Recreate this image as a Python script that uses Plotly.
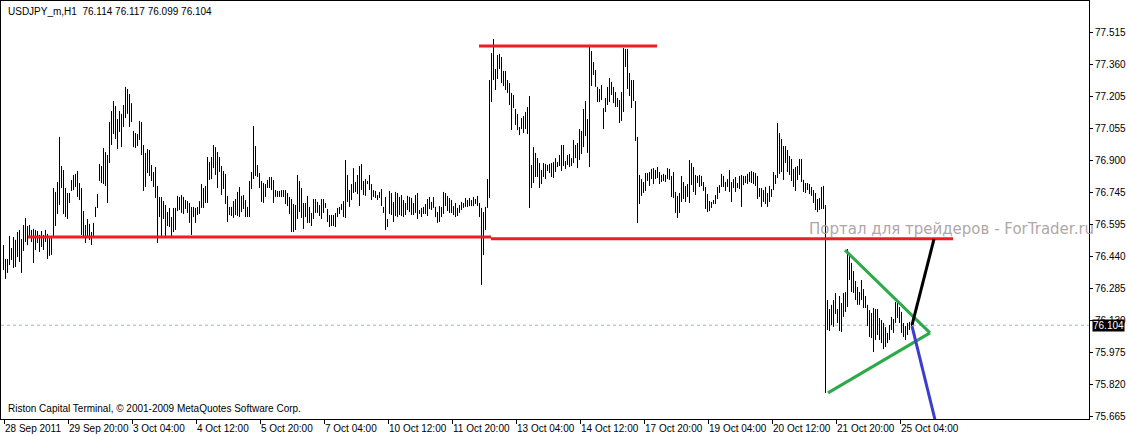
import plotly.graph_objects as go
import numpy as np

symbol_title = "USDJPY_m,H1"
last_ohlc = ["76.114", "76.117", "76.099", "76.104"]
last_close = 76.104
footer_text = "Riston Capital Terminal, © 2001-2009 MetaQuotes Software Corp."
watermark_text = "Портал для трейдеров - ForTrader.ru"

x_tick_labels = ["28 Sep 2011", "29 Sep 20:00", "3 Oct 04:00", "4 Oct 12:00", "5 Oct 20:00",
                 "7 Oct 04:00", "10 Oct 12:00", "11 Oct 20:00", "13 Oct 04:00", "14 Oct 12:00",
                 "17 Oct 20:00", "19 Oct 04:00", "20 Oct 12:00", "21 Oct 20:00", "25 Oct 04:00"]
y_tick_labels = ["75.665", "75.820", "75.975", "76.130", "76.285", "76.440", "76.595",
                 "76.745", "76.900", "77.055", "77.205", "77.360", "77.515"]

highs = [
    76.490, 76.423, 76.423, 76.534, 76.476, 76.529, 76.515, 76.553, 76.563, 76.519,
    76.587, 76.621, 76.582, 76.587, 76.563, 76.568, 76.563, 76.558, 76.539, 76.558,
    76.539, 76.563, 76.544, 76.534, 76.529, 76.765, 76.746, 76.794, 77.011, 76.871,
    76.852, 76.765, 76.741, 76.741, 76.804, 76.828, 76.833, 76.847, 76.789, 76.765,
    76.654, 76.587, 76.616, 76.592, 76.553, 76.597, 76.674, 76.736, 76.881, 76.871,
    76.958, 76.938, 76.924, 77.083, 77.136, 77.184, 77.160, 77.097, 77.136, 77.122,
    77.165, 77.252, 77.242, 77.218, 77.174, 77.040, 77.030, 77.025, 77.088, 77.083,
    76.972, 76.934, 76.953, 76.948, 76.876, 76.842, 76.866, 76.775, 76.722, 76.722,
    76.702, 76.683, 76.649, 76.669, 76.625, 76.669, 76.669, 76.727, 76.722, 76.731,
    76.722, 76.707, 76.702, 76.693, 76.674, 76.674, 76.669, 76.674, 76.702, 76.784,
    76.765, 76.775, 76.914, 76.890, 76.914, 76.972, 76.962, 76.938, 76.914, 76.871,
    76.847, 76.833, 76.727, 76.674, 76.674, 76.702, 76.712, 76.746, 76.770, 76.727,
    76.731, 76.707, 76.674, 76.799, 76.842, 77.064, 76.967, 76.876, 76.837, 76.799,
    76.789, 76.784, 76.804, 76.818, 76.818, 76.804, 76.755, 76.751, 76.751, 76.755,
    76.755, 76.755, 76.741, 76.722, 76.712, 76.688, 76.683, 76.828, 76.799, 76.765,
    76.693, 76.693, 76.727, 76.674, 76.645, 76.712, 76.712, 76.698, 76.683, 76.712,
    76.712, 76.693, 76.664, 76.635, 76.635, 76.635, 76.645, 76.669, 76.674, 76.688,
    76.702, 76.900, 76.828, 76.755, 76.784, 76.861, 76.794, 76.828, 76.871, 76.881,
    76.799, 76.808, 76.799, 76.828, 76.784, 76.755, 76.751, 76.731, 76.746, 76.760,
    76.674, 76.722, 76.616, 76.751, 76.741, 76.698, 76.746, 76.741, 76.722, 76.731,
    76.707, 76.693, 76.727, 76.722, 76.717, 76.693, 76.731, 76.741, 76.659, 76.669,
    76.674, 76.688, 76.712, 76.722, 76.698, 76.722, 76.674, 76.649, 76.678, 76.674,
    76.746, 76.741, 76.727, 76.717, 76.707, 76.678, 76.693, 76.669, 76.683, 76.698,
    76.693, 76.717, 76.707, 76.717, 76.707, 76.722, 76.712, 76.727, 76.693, 76.669,
    76.649, 76.674, 76.808, 77.285, 77.415, 77.483, 77.338, 77.406, 77.411, 77.396,
    77.329, 77.329, 77.285, 77.271, 77.223, 77.213, 77.146, 77.122, 77.059, 77.102,
    77.112, 77.131, 77.155, 77.208, 76.876, 76.962, 76.934, 76.909, 76.885, 76.852,
    76.885, 76.881, 76.876, 76.881, 76.885, 76.890, 76.909, 76.890, 76.924, 76.972,
    76.972, 76.895, 76.924, 76.929, 76.909, 76.996, 76.972, 76.982, 77.049, 77.040,
    77.146, 77.184, 77.097, 77.444, 77.425, 77.372, 77.333, 77.252, 77.242, 77.261,
    77.150, 77.199, 77.252, 77.295, 77.276, 77.252, 77.227, 77.199, 77.189, 77.227,
    77.439, 77.435, 77.435, 77.319, 77.285, 77.285, 77.184, 77.011, 76.828, 76.808,
    76.794, 76.837, 76.837, 76.842, 76.857, 76.861, 76.852, 76.866, 76.842, 76.828,
    76.833, 76.828, 76.861, 76.857, 76.823, 76.842, 76.746, 76.727, 76.741, 76.823,
    76.794, 76.775, 76.784, 76.900, 76.885, 76.866, 76.828, 76.823, 76.828, 76.823,
    76.794, 76.770, 76.736, 76.702, 76.698, 76.707, 76.731, 76.770, 76.779, 76.833,
    76.823, 76.794, 76.808, 76.852, 76.794, 76.808, 76.818, 76.789, 76.823, 76.828,
    76.823, 76.823, 76.833, 76.842, 76.847, 76.842, 76.837, 76.823, 76.765, 76.765,
    76.755, 76.770, 76.741, 76.775, 76.760, 76.842, 76.828, 77.078, 77.030, 77.001,
    76.967, 76.967, 76.948, 76.919, 76.905, 76.857, 76.866, 76.871, 76.905, 76.905,
    76.804, 76.789, 76.789, 76.784, 76.770, 76.755, 76.741, 76.712, 76.717, 76.770,
    76.775, 76.683, 76.225, 76.182, 76.202, 76.225, 76.259, 76.182, 76.245, 76.211,
    76.259, 76.264, 76.471, 76.452, 76.404, 76.365, 76.317, 76.288, 76.264, 76.322,
    76.278, 76.245, 76.202, 76.177, 76.163, 76.187, 76.182, 76.182, 76.139, 76.129,
    76.115, 76.095, 76.067, 76.105, 76.144, 76.134, 76.216, 76.211, 76.192, 76.168,
    76.115, 76.100, 76.115, 76.120, 76.117,
]

lows = [
    76.370, 76.327, 76.356, 76.394, 76.418, 76.380, 76.385, 76.433, 76.409, 76.356,
    76.462, 76.505, 76.490, 76.529, 76.505, 76.404, 76.466, 76.500, 76.457, 76.481,
    76.466, 76.505, 76.423, 76.438, 76.443, 76.524, 76.582, 76.640, 76.683, 76.765,
    76.640, 76.625, 76.616, 76.693, 76.751, 76.755, 76.770, 76.722, 76.707, 76.539,
    76.524, 76.500, 76.534, 76.515, 76.490, 76.529, 76.625, 76.669, 76.799, 76.789,
    76.784, 76.775, 76.693, 76.885, 76.972, 77.025, 77.001, 76.953, 77.035, 76.962,
    77.059, 77.102, 77.122, 77.059, 77.083, 76.962, 76.958, 76.967, 76.996, 76.924,
    76.751, 76.770, 76.837, 76.823, 76.799, 76.770, 76.717, 76.500, 76.625, 76.534,
    76.616, 76.534, 76.582, 76.577, 76.534, 76.553, 76.563, 76.654, 76.659, 76.645,
    76.640, 76.664, 76.645, 76.597, 76.539, 76.625, 76.597, 76.635, 76.640, 76.669,
    76.669, 76.693, 76.693, 76.804, 76.808, 76.861, 76.828, 76.765, 76.842, 76.731,
    76.760, 76.688, 76.601, 76.635, 76.630, 76.621, 76.635, 76.630, 76.625, 76.649,
    76.664, 76.625, 76.625, 76.625, 76.760, 76.808, 76.823, 76.818, 76.765, 76.698,
    76.693, 76.722, 76.765, 76.765, 76.755, 76.693, 76.722, 76.722, 76.722, 76.722,
    76.722, 76.688, 76.678, 76.640, 76.553, 76.553, 76.563, 76.616, 76.649, 76.621,
    76.568, 76.625, 76.597, 76.597, 76.582, 76.616, 76.645, 76.645, 76.630, 76.616,
    76.645, 76.669, 76.601, 76.577, 76.582, 76.582, 76.577, 76.625, 76.640, 76.659,
    76.625, 76.621, 76.698, 76.674, 76.707, 76.741, 76.746, 76.736, 76.678, 76.755,
    76.731, 76.727, 76.784, 76.755, 76.707, 76.722, 76.717, 76.707, 76.717, 76.678,
    76.645, 76.563, 76.577, 76.640, 76.635, 76.601, 76.630, 76.625, 76.635, 76.630,
    76.625, 76.635, 76.659, 76.649, 76.635, 76.635, 76.645, 76.616, 76.640, 76.625,
    76.640, 76.640, 76.630, 76.664, 76.659, 76.669, 76.625, 76.597, 76.601, 76.625,
    76.640, 76.678, 76.654, 76.645, 76.645, 76.635, 76.625, 76.630, 76.645, 76.659,
    76.669, 76.674, 76.674, 76.678, 76.678, 76.678, 76.688, 76.678, 76.625, 76.298,
    76.442, 76.563, 76.669, 76.717, 77.179, 77.285, 77.237, 77.290, 77.338, 77.271,
    77.256, 77.237, 77.223, 77.165, 77.044, 77.150, 77.069, 77.044, 77.020, 77.049,
    77.030, 77.049, 77.025, 76.669, 76.765, 76.789, 76.818, 76.818, 76.765, 76.784,
    76.818, 76.808, 76.847, 76.837, 76.818, 76.813, 76.842, 76.866, 76.871, 76.847,
    76.871, 76.857, 76.876, 76.866, 76.871, 76.885, 76.909, 76.861, 76.900, 76.929,
    76.962, 77.015, 76.934, 76.866, 77.256, 77.309, 77.252, 77.179, 77.179, 77.189,
    77.049, 77.131, 77.165, 77.179, 77.213, 77.174, 77.155, 77.155, 77.078, 77.088,
    77.131, 77.348, 77.242, 77.208, 77.150, 77.184, 76.991, 76.596, 76.688, 76.727,
    76.741, 76.751, 76.799, 76.775, 76.808, 76.784, 76.808, 76.813, 76.784, 76.794,
    76.799, 76.794, 76.808, 76.804, 76.722, 76.717, 76.645, 76.621, 76.645, 76.698,
    76.712, 76.698, 76.722, 76.693, 76.779, 76.746, 76.731, 76.789, 76.770, 76.775,
    76.751, 76.664, 76.649, 76.654, 76.669, 76.688, 76.688, 76.712, 76.741, 76.770,
    76.770, 76.751, 76.770, 76.746, 76.698, 76.765, 76.746, 76.765, 76.760, 76.674,
    76.779, 76.789, 76.784, 76.794, 76.789, 76.784, 76.775, 76.712, 76.722, 76.674,
    76.698, 76.688, 76.674, 76.698, 76.722, 76.755, 76.784, 76.813, 76.833, 76.842,
    76.804, 76.885, 76.842, 76.828, 76.799, 76.770, 76.751, 76.804, 76.828, 76.794,
    76.746, 76.741, 76.755, 76.736, 76.727, 76.693, 76.659, 76.649, 76.659, 76.664,
    76.664, 75.778, 76.081, 76.076, 76.105, 76.096, 76.158, 76.115, 76.076, 76.071,
    76.144, 76.168, 76.192, 76.322, 76.264, 76.259, 76.225, 76.202, 76.202, 76.225,
    76.187, 76.187, 76.100, 76.047, 76.042, 75.975, 76.033, 76.057, 76.033, 76.018,
    75.989, 75.999, 76.018, 76.033, 76.081, 76.067, 76.115, 76.139, 76.115, 76.067,
    76.047, 76.033, 76.057, 76.081, 76.099,
]

# hand-drawn objects (bar index, price)
support_1 = {"x": [13.5, 245.0], "price": 76.529}
support_2 = {"x": [245.0, 476.0], "price": 76.521}
resistance = {"x": [239.0, 328.0], "price": 77.449}
triangle_upper = {"x": [422.0, 464.5], "y": [76.466, 76.067]}
triangle_lower = {"x": [413.5, 464.5], "y": [75.778, 76.067]}
breakout_up = {"x": [455.5, 466.5], "y": [76.105, 76.519]}
breakout_down = {"x": [455.5, 467.5], "y": [76.100, 75.630]}

RED = "#ee1c25"
GREEN = "#2aaa48"
BLUE = "#3c3cd0"
FONT = "Liberation Sans, Arial, sans-serif"

X_MIN, X_MAX = 0, 544
Y_MIN, Y_MAX = 75.6523, 77.6658

n = min(len(highs), len(lows))
bx, by = [], []
for k in range(n):
    xv = k + 1 + 0.25
    bx += [xv, xv, None]
    by += [lows[k], highs[k], None]

fig = go.Figure()
fig.add_trace(go.Scatter(x=bx, y=by, mode="lines", line=dict(color="black", width=1),
                         hoverinfo="skip"))

def seg(x, y, color, width=3):
    fig.add_trace(go.Scatter(x=x, y=y, mode="lines", line=dict(color=color, width=width),
                             hoverinfo="skip"))

seg(support_1["x"], [support_1["price"]] * 2, RED)
seg(support_2["x"], [support_2["price"]] * 2, RED)
seg(resistance["x"], [resistance["price"]] * 2, RED)
seg(triangle_upper["x"], triangle_upper["y"], GREEN)
seg(triangle_lower["x"], triangle_lower["y"], GREEN)
seg(breakout_up["x"], breakout_up["y"], "black")
seg(breakout_down["x"], breakout_down["y"], BLUE)

fig.add_shape(type="line", xref="paper", x0=0, x1=1, yref="y", y0=last_close, y1=last_close,
              line=dict(color="#9fb4c8", width=1, dash="dot"), layer="below")

y_tick_vals = list(np.linspace(75.665, 77.515, len(y_tick_labels)))
x_tick_vals = [1.5 + 32 * i for i in range(len(x_tick_labels))]

fig.update_layout(
    template="none",
    width=1127, height=436,
    margin=dict(l=1, r=38, t=1, b=17, autoexpand=False),
    paper_bgcolor="white", plot_bgcolor="white",
    showlegend=False,
    font=dict(family=FONT, size=10, color="black"),
)
fig.update_xaxes(range=[X_MIN, X_MAX], showgrid=False, zeroline=False, automargin=False,
                 showline=True, mirror=True, linecolor="black", linewidth=1,
                 ticks="outside", ticklen=4, tickcolor="black", tickwidth=1,
                 tickvals=x_tick_vals, ticktext=x_tick_labels, tickangle=0,
                 ticklabelposition="outside right",
                 tickfont=dict(family=FONT, size=10, color="black"))
fig.update_yaxes(range=[Y_MIN, Y_MAX], side="right", showgrid=False, zeroline=False,
                 automargin=False,
                 showline=True, mirror=True, linecolor="black", linewidth=1,
                 ticks="outside", ticklen=3, tickcolor="black", tickwidth=1,
                 tickvals=y_tick_vals, ticktext=y_tick_labels, tickangle=0,
                 tickfont=dict(family=FONT, size=10, color="black"))

title_text = symbol_title + "\u00a0\u00a0" + " ".join(last_ohlc)
fig.add_annotation(text=title_text, xref="paper", yref="paper", x=0, y=1,
                   xanchor="left", yanchor="top", xshift=5, yshift=-3, showarrow=False,
                   font=dict(family=FONT, size=10, color="black"))
fig.add_annotation(text=footer_text, xref="paper", yref="paper", x=0, y=0,
                   xanchor="left", yanchor="bottom", xshift=5, yshift=3, showarrow=False,
                   font=dict(family=FONT, size=10, color="black"))
fig.add_annotation(text=watermark_text, xref="paper", yref="y", x=(807 - 1) / 1088, y=76.567,
                   xanchor="left", yanchor="middle", showarrow=False,
                   font=dict(family="DejaVu Sans", size=15, color="rgba(165,155,155,0.9)"))
fig.add_annotation(text=last_ohlc[3], xref="paper", yref="y", x=1, y=last_close,
                   xanchor="left", yanchor="middle", xshift=3, showarrow=False,
                   bgcolor="black", borderpad=0,
                   font=dict(family=FONT, size=10, color="white"))

fig.write_html("out.html",
               config={"displayModeBar": False, "staticPlot": True},
               post_script="document.body.style.margin='0';document.body.style.padding='0';"
                           "document.body.style.overflow='hidden';")
